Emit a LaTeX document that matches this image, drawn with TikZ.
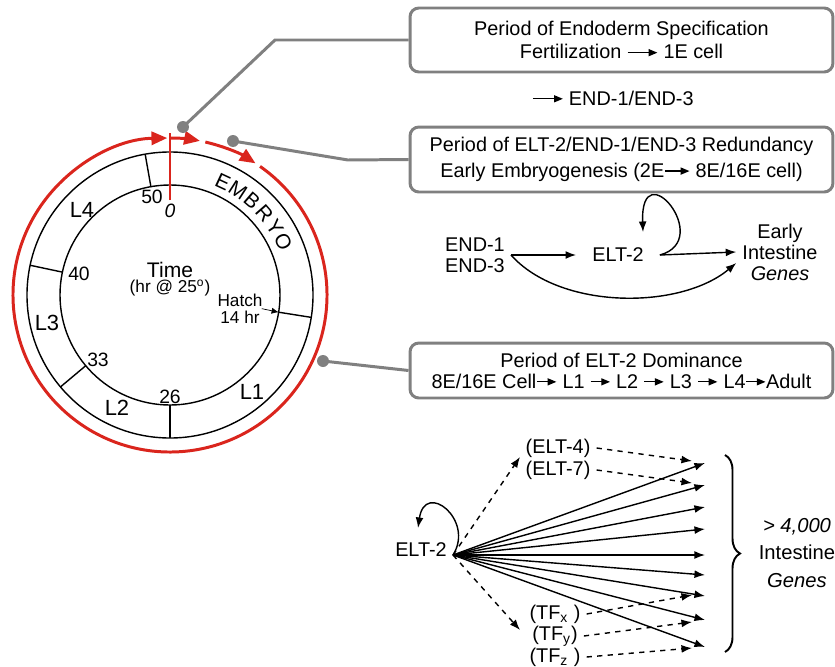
\documentclass[tikz,border=0pt]{standalone}
\usepackage{fontspec}
\setmainfont{Liberation Sans}
\usetikzlibrary{arrows.meta,decorations.pathreplacing}

\definecolor{cyclered}{RGB}{218,37,29}
\definecolor{linkgray}{RGB}{128,128,128}

\newcommand{\longto}[1][17pt]{\tikz[baseline=-0.6ex]\draw[black,line width=0.7pt,-{Triangle[length=5pt,width=4pt]}] (0pt,0pt) -- (#1,0pt);}

\tikzset{>={Latex[length=6pt,width=4.5pt]}}
\tikzset{
  period/.style={draw=linkgray, line width=1.7pt, rounded corners=5pt, align=center,
    minimum width=8.46cm, font=\fontsize{11.3}{13.5}\selectfont},
  link/.style={linkgray, line width=1.7pt},
  linkdot/.style={circle, fill=linkgray, minimum size=0.24cm, inner sep=0pt},
  redarc/.style={cyclered, line width=1.7pt, -{Triangle[length=9pt,width=7.5pt]}},
  lbl/.style={font=\fontsize{11.3}{12}\selectfont, align=center},
  stage/.style={font=\fontsize{12.5}{13}\selectfont},
  hour/.style={font=\fontsize{11}{12}\selectfont, inner sep=1pt},
  small/.style={font=\fontsize{9.8}{11}\selectfont, inner sep=1pt},
}

\begin{document}
\begin{tikzpicture}[x=0.02cm,y=0.02cm]
  \useasboundingbox (0,0) rectangle (835,-666);

  % life cycle clock
  \begin{scope}[shift={(170,-295)}]
    \draw[thick] (0,0) circle (110);
    \draw[thick] (0,0) circle (143);
    \foreach \A in {100,-9,-90,220,168} { \draw[thick] (\A:110) -- (\A:143); }
    \draw[cyclered, line width=0.7pt] (90:95) -- (90:162);
    \draw[redarc] (55:157) arc (55:-269:157);
    \draw[redarc] (90:157) arc (90:79:157);
    \draw[redarc] (77:157) arc (77:57:157);
    \foreach \L/\A in {E/65,M/57,B/49,R/41,Y/33,O/25} {
      \node[font=\fontsize{11.8}{12}\selectfont, inner sep=0pt, rotate=\A-90] (emb\L) at (\A:125) {\L};
    }
    \node[hour] (n50) at (-18,98) {50};
    \node[hour] (n0) at (0,84) {\textit{0}};
    \node[hour] (n40) at (-91,21) {40};
    \node[hour] (n33) at (-72,-65) {33};
    \node[hour] (n26) at (0,-102) {26};
    \node[stage] (l4) at (-88,85) {L4};
    \node[stage] (l3) at (-123,-28) {L3};
    \node[stage] (l2) at (-53,-113) {L2};
    \node[stage] (l1) at (82,-97) {L1};
    \node[font=\fontsize{12}{12}\selectfont] (time) at (0,25) {Time};
    \node[small] (temp) at (0,7) {(hr @ 25\textsuperscript{o})};
    \node[small] (hatch) at (70,-5) {Hatch};
    \node[small] (hr14) at (70,-22) {14 hr};
    \coordinate (hatchpt) at (-9:110);
    \draw[->, >={Latex[length=4pt,width=3.5pt]}] (hr14.north east) -- (hatchpt);
  \end{scope}

  % period boxes
  \node[period, minimum height=1.28cm] (spec) at (621.5,-40)
    {Period of Endoderm Specification\\Fertilization \longto\ 1E cell};
  \node[lbl] (endpair) at (613,-98) {\longto\ END-1/END-3};
  \node[period, minimum height=1.3cm, font=\fontsize{11.3}{14.5}\selectfont] (redund) at (621.5,-159.5)
    {Period of ELT-2/END-1/END-3 Redundancy\\Early Embryogenesis (2E\longto[14pt] 8E/16E cell)};
  \node[period, minimum height=1.1cm, font=\fontsize{11.3}{12}\selectfont] (domin) at (621.5,-370.5)
    {Period of ELT-2 Dominance\\8E/16E Cell\longto[11pt] L1 \longto[11pt] L2 \longto[11pt] L3 \longto[11pt] L4\longto[11pt]Adult};

  % gray leaders
  \node[linkdot] (dot1) at (183,-127) {};
  \node[linkdot] (dot2) at (233,-141) {};
  \node[linkdot] (dot3) at (323,-361) {};
  \draw[link] (dot1.center) -- (275,-40) -- (spec.west);
  \draw[link] (dot2.center) -- (348,-160) -- (redund.west);
  \draw[link] (dot3.center) -- (domin.west);

  % redundancy network
  \node[lbl] (ends) at (475,-255) {END-1\\END-3};
  \node[lbl, inner xsep=9pt] (eltA) at (618,-255) {ELT-2};
  \node[lbl] (early) at (780,-252) {Early\\Intestine\\\textit{Genes}};
  \coordinate (loopA) at (643,-232);
  \draw[thick,->] (ends.east) -- (eltA.west);
  \draw[thick,->] (eltA.east) -- (early.west);
  \draw[thick,->] (eltA.east) .. controls (715,-240) and (640,-150) .. (loopA);
  \draw[thick,->] (ends.east) .. controls (560,-310) and (680,-310) .. ([yshift=-0.22cm]early.west);

  % dominance network
  \node[lbl] (eltB) at (421,-550) {ELT-2};
  \coordinate (hub) at (453,-555);
  \draw[thick,->] (hub) .. controls (475,-520) and (425,-480) .. (418,-528);
  \foreach \Y [count=\i] in {463,485,507,529,555,575,596,620,647} {
    \coordinate (g\i) at (705,-\Y);
    \draw[thick,->] (hub) -- (g\i);
  }
  \node[lbl] (elt4) at (558,-448) {(ELT-4)};
  \node[lbl] (elt7) at (558,-470) {(ELT-7)};
  \node[lbl] (tfx) at (555,-614) {(TF\textsubscript{x} )};
  \node[lbl] (tfy) at (555,-636) {(TF\textsubscript{y})};
  \node[lbl] (tfz) at (555,-657) {(TF\textsubscript{z} )};
  \coordinate (upend) at (520,-457);
  \coordinate (downend) at (520,-630);
  \draw[thick,dashed,->] (hub) -- (upend);
  \draw[thick,dashed,->] (hub) -- (downend);
  \foreach \N/\Y in {elt4/461,elt7/483,tfx/595,tfy/622,tfz/648} {
    \draw[thick,dashed,->] (\N.east) -- (692,-\Y);
  }
  \draw[line width=1.1pt, decorate, decoration={brace, amplitude=0.3cm}] (725,-455) -- (725,-652);
  \node[align=center, font=\fontsize{11.5}{15.5}\selectfont] (genes) at (797,-553)
    {\textit{> 4,000}\\Intestine\\\textit{Genes}};
\end{tikzpicture}
\end{document}
